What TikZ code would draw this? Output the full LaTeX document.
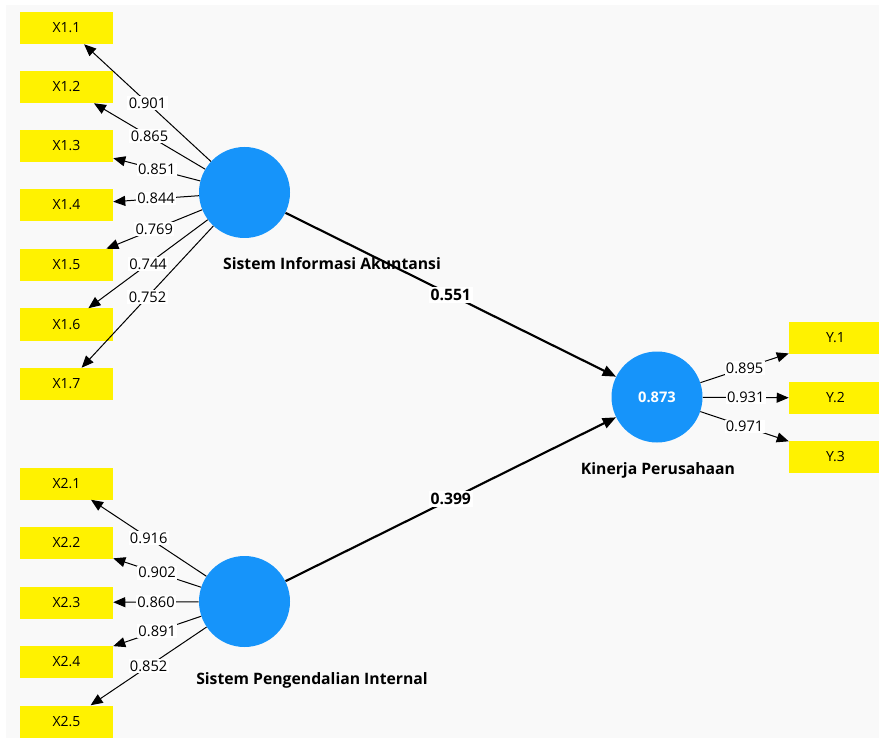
\documentclass[tikz,border=0pt]{standalone}
\usepackage{fontspec}
\setmainfont{Open Sans}
\usetikzlibrary{arrows.meta}
\definecolor{latentblue}{RGB}{22,148,250}
\definecolor{bggrey}{RGB}{249,249,249}
\tikzset{
	indicator/.style={rectangle, fill=yellow, minimum width=69.75pt, minimum height=24pt, inner sep=0pt, font=\fontsize{10.5}{12}\selectfont},
	latent/.style={circle, fill=latentblue, minimum size=68.25pt, inner sep=0pt, text=white, font=\bfseries\fontsize{11}{13}\selectfont},
	latentlabel/.style={font=\bfseries\fontsize{11.8}{14}\selectfont},
	loading/.style={-{Triangle[length=9pt,width=7.5pt]}, line width=0.75pt},
	path/.style={-{Triangle[length=10pt,width=8pt]}, line width=1.6pt},
	coef/.style={midway, fill=white, inner sep=1pt, font=\fontsize{11}{13}\selectfont},
	pathcoef/.style={midway, fill=white, inner sep=1.5pt, font=\bfseries\fontsize{11.8}{14}\selectfont}
}

\begin{document}
\begin{tikzpicture}[x=0.75pt, y=-0.75pt]
			% Background
			\useasboundingbox (0,0) rectangle (879,738);
			\fill[white] (0,0) rectangle (879,738);
			\fill[bggrey] (6,5) rectangle (879,738);

			% Latent variables
			\node[latent] (SIA) at (244.5,192.5) {};
			\node[latent] (SPI) at (244.5,601.5) {};
			\node[latent] (KP) at (657,397) {0.873};
			\node[latentlabel] (SIAlabel) at (332,264) {Sistem Informasi Akuntansi};
			\node[latentlabel] (SPIlabel) at (312,680) {Sistem Pengendalian Internal};
			\node[latentlabel] (KPlabel) at (658,470) {Kinerja Perusahaan};

			% Indicators
			\node[indicator] (X11) at (66.5,28) {X1.1};
			\node[indicator] (X12) at (66.5,87) {X1.2};
			\node[indicator] (X13) at (66.5,146) {X1.3};
			\node[indicator] (X14) at (66.5,205) {X1.4};
			\node[indicator] (X15) at (66.5,265) {X1.5};
			\node[indicator] (X16) at (66.5,324.5) {X1.6};
			\node[indicator] (X17) at (66.5,384) {X1.7};
			\node[indicator] (X21) at (66.5,483.5) {X2.1};
			\node[indicator] (X22) at (66.5,543) {X2.2};
			\node[indicator] (X23) at (66.5,602.5) {X2.3};
			\node[indicator] (X24) at (66.5,662) {X2.4};
			\node[indicator] (X25) at (66.5,721.5) {X2.5};
			\node[indicator] (Y1) at (835.5,338) {Y.1};
			\node[indicator] (Y2) at (835.5,398) {Y.2};
			\node[indicator] (Y3) at (835.5,457) {Y.3};

			% Outer loadings
			\draw[loading] (SIA) -- (X11) node[coef] {0.901};
			\draw[loading] (SIA) -- (X12) node[coef] {0.865};
			\draw[loading] (SIA) -- (X13) node[coef] {0.851};
			\draw[loading] (SIA) -- (X14) node[coef] {0.844};
			\draw[loading] (SIA) -- (X15) node[coef] {0.769};
			\draw[loading] (SIA) -- (X16) node[coef] {0.744};
			\draw[loading] (SIA) -- (X17) node[coef] {0.752};
			\draw[loading] (SPI) -- (X21) node[coef] {0.916};
			\draw[loading] (SPI) -- (X22) node[coef] {0.902};
			\draw[loading] (SPI) -- (X23) node[coef] {0.860};
			\draw[loading] (SPI) -- (X24) node[coef] {0.891};
			\draw[loading] (SPI) -- (X25) node[coef] {0.852};
			\draw[loading] (KP) -- (Y1) node[coef] {0.895};
			\draw[loading] (KP) -- (Y2) node[coef] {0.931};
			\draw[loading] (KP) -- (Y3) node[coef] {0.971};

			% Path coefficients
			\draw[path] (SIA) -- (KP) node[pathcoef] {0.551};
			\draw[path] (SPI) -- (KP) node[pathcoef] {0.399};
		\end{tikzpicture}
\end{document}
